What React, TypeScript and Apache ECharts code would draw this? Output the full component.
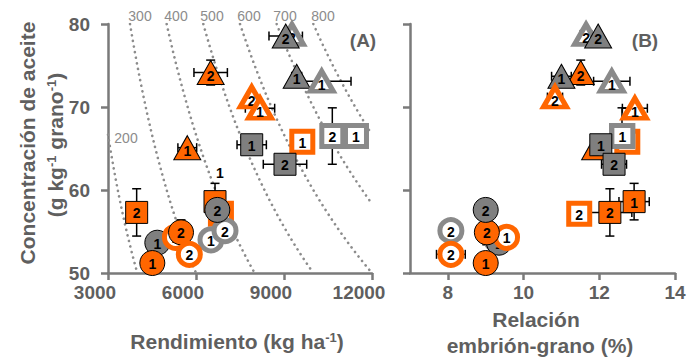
import React, { useEffect, useRef } from 'react';
import * as echarts from 'echarts';

// ---- data (draw order: later items on top) ----
const shapes = ['tri','tri','tri','tri','tri','tri','tri','tri','sq','sq','sq','sq','sq','sq','sq','sq','circ','circ','circ','circ','circ','circ','circ','circ'];
const colors = ['gray','gray','orange','gray','gray','orange','orange','orange','orange','gray','gray','gray','gray','orange','orange','orange','gray','gray','gray','orange','orange','orange','orange','gray'];
const fills = ['hollow','filled','filled','filled','hollow','hollow','hollow','filled','hollow','hollow','hollow','filled','filled','filled','filled','hollow','hollow','hollow','filled','filled','hollow','filled','hollow','filled'];
const labels = ['2','2','2','1','1','2','1','1','1','2','1','1','2','2','1','2','1','2','1','1','1','2','2','2'];

const yieldKgHa = [9270, 9058, 6500, 9432, 10285, 7899, 8182, 5703, 9624, 10647, 11454, 7899, 9034, 3977, 6648, 6850, 6511, 6989, 4681, 4511, 5300, 5489, 5772, 6727];
const embryoRatio = [11.65, 11.97, 11.51, 11.0, 12.33, 10.83, 12.94, 11.89, 12.74, 12.6, 12.61, 12.04, 12.39, 12.28, 12.92, 11.47, 9.3, 8.08, 9.35, 9.0, 9.55, 9.03, 8.08, 9.0];
const oilConc = [78.75, 78.55, 74.15, 73.7, 73.1, 71.2, 69.85, 65.1, 65.8, 66.5, 66.5, 65.45, 63.1, 57.3, 58.6, 57.15, 54.0, 55.1, 53.65, 51.2, 54.3, 54.9, 52.25, 57.6];

const yieldErr = [0, 570, 570, 170, 1000, 0, 500, 320, 0, 0, 0, 500, 740, 0, 0, 0, 0, 0, 0, 0, 0, 0, 0, 0];
const ratioErr = [0.15, 0, 0, 0.26, 0.48, 0.2, 0.33, 0, 0, 0, 0, 0, 0.33, 0.58, 0.4, 0.24, 0, 0, 0, 0, 0, 0, 0.38, 0];
const oilErr = [0, 0, 1.5, 0, 0, 0, 0, 0, 0, 3.4, 0, 0, 1.2, 2.85, 2.2, 0, 0, 0, 0, 0, 0, 1.5, 0, 0];

// oil-yield isolines (kg oil / ha)
const isoLevels = [200, 300, 400, 500, 600, 700, 800];

const yieldTicks = [3000, 6000, 9000, 12000];
const ratioTicks = [8, 10, 12, 14];
const oilTicks = [50, 60, 70, 80];

const ORANGE = '#ff6600';
const GRAY = '#7f7f7f';
const GRAY_HOLLOW = '#8a8a8a';
const TEXT = '#5f5f5f';
const AXIS = '#7a7a7a';
const FONT = 'Liberation Sans, Arial, sans-serif';

// label placed outside its (covered) marker in panel A
const outsideLabelOffsetA: Record<number, number[]> = { 14: [5, -29] };

const labelCommon = {
  show: true,
  position: 'inside',
  color: '#000',
  fontWeight: 'bold',
  fontSize: 14,
  fontFamily: FONT,
  formatter: (p: any) => p.name,
};

function pointSeries(xs: number[], axis: number) {
  return xs.map((x, i) => {
    const shape = shapes[i];
    const hollow = fills[i] === 'hollow';
    const col = colors[i] === 'orange' ? ORANGE : (hollow ? GRAY_HOLLOW : GRAY);
    let symbol = 'circle';
    let size: any = hollow ? 22 : 25;
    if (shape === 'tri') { symbol = 'triangle'; size = hollow ? [23, 20] : [27, 24]; }
    if (shape === 'sq') { symbol = 'rect'; size = hollow ? 21 : 22; }
    let offset = shape === 'tri' ? [0, hollow ? 4 : 3] : [0, 1];
    let z = 3 + i;
    let labelZ: any = {};
    if (axis === 0 && outsideLabelOffsetA[i]) {
      offset = outsideLabelOffsetA[i];
    }
    return {
      type: 'scatter',
      xAxisIndex: axis,
      yAxisIndex: axis,
      z,
      silent: true,
      label: { ...labelCommon, ...labelZ, offset },
      data: [{
        name: labels[i],
        value: [x, oilConc[i]],
        symbol,
        symbolSize: size,
        itemStyle: hollow
          ? { color: '#fff', borderColor: col, borderWidth: 5, opacity: 1 }
          : { color: col, borderColor: '#000', borderWidth: 1, opacity: 1 },
      }],
    };
  });
}

function errItems(xs: number[], xe: number[]) {
  return xs.map((x, i) => [x, oilConc[i], xe[i], oilErr[i]]);
}

function renderErr(params: any, api: any) {
  const x = api.value(0), y = api.value(1), ex = api.value(2), ey = api.value(3);
  const children: any[] = [];
  const st = { stroke: '#000', lineWidth: 1.5 };
  const cap = 4.5;
  if (ex > 0) {
    const l = api.coord([x - ex, y]);
    const r = api.coord([x + ex, y]);
    children.push({ type: 'line', shape: { x1: l[0], y1: l[1], x2: r[0], y2: r[1] }, style: st });
    children.push({ type: 'line', shape: { x1: l[0], y1: l[1] - cap, x2: l[0], y2: l[1] + cap }, style: st });
    children.push({ type: 'line', shape: { x1: r[0], y1: r[1] - cap, x2: r[0], y2: r[1] + cap }, style: st });
  }
  if (ey > 0) {
    const t = api.coord([x, y + ey]);
    const b = api.coord([x, y - ey]);
    children.push({ type: 'line', shape: { x1: t[0], y1: t[1], x2: b[0], y2: b[1] }, style: st });
    children.push({ type: 'line', shape: { x1: t[0] - cap, y1: t[1], x2: t[0] + cap, y2: t[1] }, style: st });
    children.push({ type: 'line', shape: { x1: b[0] - cap, y1: b[1], x2: b[0] + cap, y2: b[1] }, style: st });
  }
  return { type: 'group', children };
}

function isoCurve(k: number) {
  // hyperbola: oil concentration (g/kg) = k*1000 / yield (kg/ha)
  const x0 = Math.max(3000, (k * 1000) / 80);
  const x1 = Math.min(12000, (k * 1000) / 50);
  const pts: number[][] = [];
  const n = 60;
  for (let j = 0; j <= n; j++) {
    const x = x0 + ((x1 - x0) * j) / n;
    pts.push([x, (k * 1000) / x]);
  }
  return pts;
}

const axisLineStyle = { color: AXIS, width: 2.5 };

export default function App() {
  const ref = useRef<HTMLDivElement>(null);
  useEffect(() => {
    const chart = echarts.init(ref.current!, null, { renderer: 'svg' });
    const isoSeries = isoLevels.map((k) => ({
      type: 'line',
      xAxisIndex: 0,
      yAxisIndex: 0,
      data: isoCurve(k),
      showSymbol: false,
      smooth: false,
      clip: true,
      z: 1,
      silent: true,
      lineStyle: { color: '#8c8c8c', width: 2.6, type: [0.1, 5.6], cap: 'round' },
    }));
    const isoLabelPos = [[126, 138], [140, 16], [176, 16], [212, 16], [249, 16], [285, 16], [323, 16]];
    const plain = (v: number) => String(v);
    const option: any = {
      animation: false,
      backgroundColor: '#fff',
      textStyle: { fontFamily: FONT },
      grid: [
        { left: 108, top: 24, width: 264, height: 249 },
        { left: 410, top: 24, width: 265, height: 249 },
      ],
      xAxis: [
        {
          type: 'value', gridIndex: 0, min: 3000, max: 12000, interval: 3000,
          axisLine: { show: true, lineStyle: axisLineStyle },
          axisTick: { show: true, length: 7, lineStyle: axisLineStyle, customValues: yieldTicks },
          axisLabel: { color: TEXT, fontWeight: 'bold', fontSize: 19, fontFamily: FONT, margin: 10, padding: [0, 26, 0, 0], customValues: yieldTicks, formatter: plain },
          splitLine: { show: false },
        },
        {
          type: 'value', gridIndex: 1, min: 7, max: 14,
          axisLine: { show: true, lineStyle: axisLineStyle },
          axisTick: { show: true, length: 7, lineStyle: axisLineStyle, customValues: ratioTicks },
          axisLabel: { color: TEXT, fontWeight: 'bold', fontSize: 19, fontFamily: FONT, margin: 10, customValues: ratioTicks, formatter: plain },
          splitLine: { show: false },
        },
      ],
      yAxis: [
        {
          type: 'value', gridIndex: 0, min: 50, max: 80, interval: 10,
          axisLine: { show: true, lineStyle: axisLineStyle },
          axisTick: { show: true, length: 7, lineStyle: axisLineStyle, customValues: oilTicks },
          axisLabel: { color: TEXT, fontWeight: 'bold', fontSize: 19, fontFamily: FONT, margin: 18, customValues: oilTicks, formatter: plain },
          splitLine: { show: false },
        },
        {
          type: 'value', gridIndex: 1, min: 50, max: 80, interval: 10,
          axisLine: { show: true, lineStyle: axisLineStyle },
          axisTick: { show: true, length: 7, lineStyle: axisLineStyle, customValues: oilTicks },
          axisLabel: { show: false },
          splitLine: { show: false },
        },
      ],
      series: [
        ...isoSeries,
        {
          type: 'custom', xAxisIndex: 0, yAxisIndex: 0, z: 2, silent: true,
          data: errItems(yieldKgHa, yieldErr), renderItem: renderErr, clip: false,
        },
        {
          type: 'custom', xAxisIndex: 1, yAxisIndex: 1, z: 2, silent: true,
          data: errItems(embryoRatio, ratioErr), renderItem: renderErr, clip: false,
        },
        ...pointSeries(yieldKgHa, 0),
        ...pointSeries(embryoRatio, 1),
      ],
      graphic: [
        ...isoLevels.map((k, i) => ({
          type: 'text', x: isoLabelPos[i][0], y: isoLabelPos[i][1], silent: true,
          style: { text: String(k), fill: '#8c8c8c', font: `14px ${FONT}`, align: 'center', verticalAlign: 'middle' },
        })),
        {
          type: 'text', x: 363, y: 40,
          style: { text: '(A)', fill: TEXT, font: `bold 19px ${FONT}`, align: 'center', verticalAlign: 'middle' },
        },
        {
          type: 'text', x: 645, y: 40,
          style: { text: '(B)', fill: TEXT, font: `bold 19px ${FONT}`, align: 'center', verticalAlign: 'middle' },
        },
        {
          type: 'text', x: 237, y: 341,
          style: {
            text: '{a|Rendimiento (kg ha}{s|-1}{a|)}', align: 'center', verticalAlign: 'middle',
            rich: {
              a: { fill: TEXT, fontSize: 21, fontWeight: 'bold', fontFamily: FONT },
              s: { fill: TEXT, fontSize: 13, fontWeight: 'bold', fontFamily: FONT, verticalAlign: 'top' },
            },
          },
        },
        {
          type: 'text', x: 536, y: 319,
          style: { text: 'Relación', fill: TEXT, font: `bold 21px ${FONT}`, align: 'center', verticalAlign: 'middle' },
        },
        {
          type: 'text', x: 540, y: 345,
          style: { text: 'embrión-grano (%)', fill: TEXT, font: `bold 21px ${FONT}`, align: 'center', verticalAlign: 'middle' },
        },
        {
          type: 'text', x: 27, y: 143, rotation: Math.PI / 2,
          style: { text: 'Concentración de aceite', fill: TEXT, font: `bold 21px ${FONT}`, align: 'center', verticalAlign: 'middle' },
        },
        {
          type: 'text', x: 55, y: 145, rotation: Math.PI / 2,
          style: {
            text: '{a|(g kg}{s|-1}{a| grano}{s|-1}{a|)}', align: 'center', verticalAlign: 'middle',
            rich: {
              a: { fill: TEXT, fontSize: 21, fontWeight: 'bold', fontFamily: FONT },
              s: { fill: TEXT, fontSize: 13, fontWeight: 'bold', fontFamily: FONT, verticalAlign: 'top' },
            },
          },
        },
      ],
    };
    chart.setOption(option);
    return () => chart.dispose();
  }, []);
  return (
    <div
      ref={ref}
      style={{ position: 'fixed', left: 0, top: 0, width: 691, height: 358, background: '#fff' }}
    />
  );
}
